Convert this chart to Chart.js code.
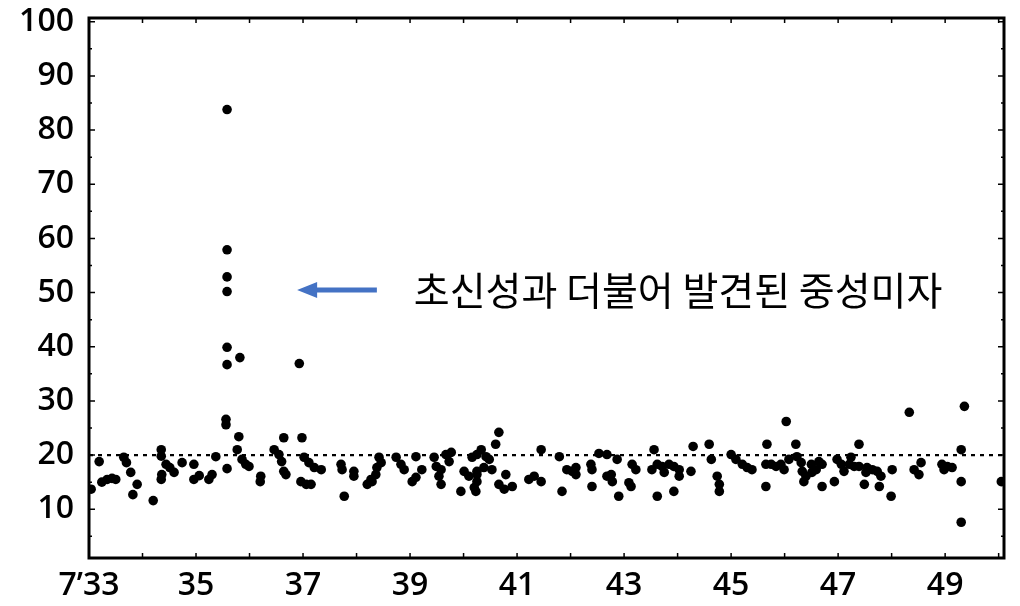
<!DOCTYPE html>
<html>
<head>
<meta charset="utf-8">
<script src="https://cdn.jsdelivr.net/npm/chart.js@4"></script>
<style>
  html, body { margin: 0; padding: 0; background: #fff; }
  #wrap { width: 1020px; height: 606px; }
</style>
</head>
<body>
<div id="wrap"><canvas id="chart" width="1020" height="606"></canvas></div>
<script>
const years = [
  1935.58, 1935.58, 1935.58, 1935.58, 1935.58, 1935.58, 1935.82, 1936.93, 1935.56, 1935.56, 1935.80, 1936.98,
  1933.04, 1933.19, 1933.24, 1933.34, 1933.43, 1933.50, 1933.65, 1933.70, 1933.78, 1933.90, 1933.82, 1934.20,
  1934.35, 1934.35, 1934.36, 1934.35, 1934.44, 1934.51, 1934.59, 1934.74, 1934.96, 1934.96, 1935.06, 1935.24,
  1935.30, 1935.37,
  1935.77, 1935.58, 1935.86, 1935.93, 1935.99, 1936.21, 1936.20, 1936.46, 1936.55, 1936.64, 1936.60, 1936.64,
  1936.68, 1937.02, 1937.11, 1937.21, 1937.34, 1936.96, 1937.06, 1937.15, 1937.71, 1937.73, 1937.77,
  1937.95, 1937.95, 1938.20, 1938.27, 1938.36, 1938.38, 1938.46, 1938.42, 1938.29, 1938.74, 1938.83, 1938.89,
  1939.04, 1939.11, 1939.22, 1939.11, 1939.45, 1939.49, 1939.58, 1939.54, 1939.58, 1939.67, 1939.73, 1939.77,
  1939.95, 1940.01, 1940.10, 1940.20, 1940.16, 1940.25,
  1940.66, 1940.60, 1940.33, 1940.25, 1940.42, 1940.48, 1940.38, 1940.53, 1940.25, 1940.25, 1940.23, 1940.79,
  1940.66, 1940.76, 1940.91, 1941.22, 1941.32, 1941.45, 1941.45, 1941.79, 1941.84, 1941.93, 1942.03, 1942.10,
  1942.10, 1942.38, 1942.40, 1942.40, 1942.53, 1942.68,
  1942.68, 1942.87, 1942.76, 1942.78, 1942.90, 1943.15, 1943.22, 1943.09, 1943.13, 1943.56, 1943.52, 1943.62,
  1943.71, 1943.75, 1943.84, 1943.93, 1944.03, 1944.03, 1943.62, 1943.93, 1944.25, 1944.29, 1944.59, 1944.63,
  1944.74, 1944.78, 1944.78, 1945.00, 1945.09,
  1945.21, 1945.30, 1945.39, 1945.67, 1945.65, 1945.65, 1945.75, 1945.84, 1945.93, 1946.03, 1945.99, 1946.08,
  1946.21, 1946.23, 1946.31, 1946.33, 1946.40, 1946.36, 1946.50, 1946.51, 1946.59, 1946.64, 1946.70, 1946.70,
  1946.93, 1946.98, 1947.06, 1947.11, 1947.21, 1947.24, 1947.30, 1947.39, 1947.39, 1947.49, 1947.52,
  1947.54, 1947.64, 1947.73, 1947.80, 1947.77, 1948.01, 1947.99, 1948.33, 1948.42, 1948.55, 1948.51, 1948.94,
  1948.98, 1949.04, 1949.13, 1949.30, 1949.36, 1949.30, 1949.30, 1950.05
];
const values = [
  83.8, 57.9, 52.9, 50.2, 39.9, 36.7, 38.0, 36.9, 26.6, 25.6, 23.4, 23.2,
  13.7, 18.8, 15.0, 15.5, 15.7, 15.5, 19.6, 18.6, 16.8, 14.6, 12.7, 11.6,
  21.0, 19.8, 16.4, 15.5, 18.3, 17.7, 16.8, 18.6, 18.3, 15.5, 16.2, 15.5,
  16.4, 19.7,
  21.0, 17.5, 19.2, 18.3, 17.9, 16.1, 15.1, 21.0, 20.1, 23.2, 18.8, 17.0,
  16.4, 19.6, 18.6, 17.7, 17.3, 15.1, 14.6, 14.6, 18.3, 17.3, 12.4,
  17.0, 16.1, 14.6, 15.5, 16.4, 17.7, 18.6, 19.6, 15.1, 19.6, 18.3, 17.3,
  15.1, 15.9, 17.3, 19.7, 19.6, 17.9, 17.3, 16.1, 14.6, 20.1, 18.8, 20.5,
  13.3, 17.0, 16.1, 14.0, 19.6, 17.0,
  24.2, 22.0, 21.0, 20.1, 19.7, 19.2, 17.7, 17.3, 16.4, 15.1, 13.3, 16.4,
  14.6, 13.7, 14.2, 15.5, 16.1, 15.1, 21.0, 19.7, 13.3, 17.3, 17.0, 16.4,
  17.7, 18.3, 17.3, 14.2, 20.3, 16.1,
  20.1, 19.2, 16.4, 15.1, 12.4, 18.3, 17.3, 14.9, 14.2, 21.0, 17.3, 18.3,
  17.9, 16.8, 18.3, 17.9, 17.3, 16.1, 12.4, 13.3, 17.0, 21.6, 22.0, 19.2,
  16.1, 14.6, 13.3, 20.1, 19.2,
  18.3, 17.7, 17.3, 22.0, 18.3, 14.2, 18.3, 17.9, 18.3, 26.2, 17.3, 19.2,
  22.0, 19.7, 18.6, 17.0, 16.1, 15.1, 18.3, 16.8, 17.3, 18.8, 14.2, 18.3,
  15.1, 19.2, 18.3, 17.0, 18.3, 19.6, 17.9, 22.0, 17.9, 14.6, 16.8,
  17.7, 17.3, 17.0, 16.1, 14.2, 17.3, 12.4, 27.9, 17.3, 18.6, 16.4, 18.3,
  17.3, 17.9, 17.7, 21.0, 29.0, 15.1, 7.6, 15.1
];

const refLevel = 20;
const xTickYears = [1933, 1935, 1937, 1939, 1941, 1943, 1945, 1947, 1949];
const yTickValues = [10, 20, 30, 40, 50, 60, 70, 80, 90, 100];

const noteText = '초신성과 더불어 발견된 중성미자';
const noteArrow = { fromYear: 1938.38, toYear: 1936.89, level: 50.5 };
const noteTextYear = 1939.07;

const tickFont = { family: "'Open Sans', 'Noto Sans', sans-serif", size: 32, weight: 600, lineHeight: 1.1 };

function yearLabel(v) {
  return v === 1933 ? '7\u201933' : String(v - 1900);
}

// box around the plot, inward tick marks, and the blue arrow note
const framePlugin = {
  id: 'frame',
  afterDraw(chart) {
    const { ctx, chartArea: a, scales: { x, y } } = chart;
    ctx.save();
    ctx.strokeStyle = '#000';
    ctx.lineWidth = 1.5;
    for (let yr = 1934; yr <= 1950; yr++) {
      const px = x.getPixelForValue(yr);
      ctx.beginPath();
      ctx.moveTo(px, a.bottom); ctx.lineTo(px, a.bottom - 5);
      ctx.moveTo(px, a.top); ctx.lineTo(px, a.top + 5);
      ctx.stroke();
    }
    for (let v = 5; v <= 100; v += 5) {
      const py = y.getPixelForValue(v);
      const len = v % 10 === 0 ? 6 : 3;
      ctx.beginPath();
      ctx.moveTo(a.left, py); ctx.lineTo(a.left + len, py);
      ctx.moveTo(a.right, py); ctx.lineTo(a.right - len, py);
      ctx.stroke();
    }
    ctx.lineWidth = 3;
    ctx.strokeRect(a.left, a.top, a.right - a.left, a.bottom - a.top);

    // arrow
    const x0 = x.getPixelForValue(noteArrow.fromYear);
    const x1 = x.getPixelForValue(noteArrow.toYear);
    const ay = y.getPixelForValue(noteArrow.level);
    ctx.strokeStyle = '#4472C4';
    ctx.fillStyle = '#4472C4';
    ctx.lineWidth = 5;
    ctx.beginPath();
    ctx.moveTo(x0, ay); ctx.lineTo(x1 + 16, ay);
    ctx.stroke();
    ctx.beginPath();
    ctx.moveTo(x1, ay);
    ctx.lineTo(x1 + 20, ay - 8);
    ctx.lineTo(x1 + 20, ay + 8);
    ctx.closePath();
    ctx.fill();

    ctx.fillStyle = '#000';
    ctx.font = "39px 'Noto Sans CJK KR', sans-serif";
    ctx.textAlign = 'left';
    ctx.textBaseline = 'middle';
    ctx.fillText(noteText, x.getPixelForValue(noteTextYear), ay);
    ctx.restore();
  }
};

const points = years.map((yr, i) => ({ x: yr, y: values[i] }));

new Chart(document.getElementById('chart').getContext('2d'), {
  type: 'scatter',
  data: {
    datasets: [{
      label: 'counts',
      data: points,
      pointRadius: 4.8,
      pointBackgroundColor: '#000',
      pointBorderWidth: 0,
      order: 1
    }, {
      type: 'line',
      label: 'reference',
      data: [{ x: 1933, y: refLevel }, { x: 1950.1, y: refLevel }],
      borderColor: '#000',
      borderWidth: 2.2,
      borderDash: [4, 5],
      pointRadius: 0,
      order: 2
    }]
  },
  options: {
    responsive: false,
    animation: false,
    layout: { padding: { top: 18, right: 16, left: 0, bottom: 0 } },
    plugins: {
      legend: { display: false },
      tooltip: { enabled: false }
    },
    scales: {
      x: {
        type: 'linear',
        min: 1933,
        max: 1950.1,
        afterBuildTicks: (scale) => { scale.ticks = xTickYears.map(v => ({ value: v })); },
        afterFit: (scale) => { scale.height = 48; },
        grid: { display: false, drawTicks: false },
        border: { display: false },
        ticks: {
          color: '#000',
          font: tickFont,
          padding: 10,
          maxRotation: 0,
          autoSkip: false,
          callback: (v) => yearLabel(v)
        }
      },
      y: {
        min: 1,
        max: 100.7,
        afterBuildTicks: (scale) => { scale.ticks = yTickValues.map(v => ({ value: v })); },
        afterFit: (scale) => {
          scale.width = 89;
          scale.paddingTop = 0;
          scale.paddingBottom = 0;
        },
        grid: { display: false, drawTicks: false },
        border: { display: false },
        ticks: {
          color: '#000',
          font: tickFont,
          padding: 15,
          autoSkip: false
        }
      }
    }
  },
  plugins: [framePlugin]
});
</script>
</body>
</html>
